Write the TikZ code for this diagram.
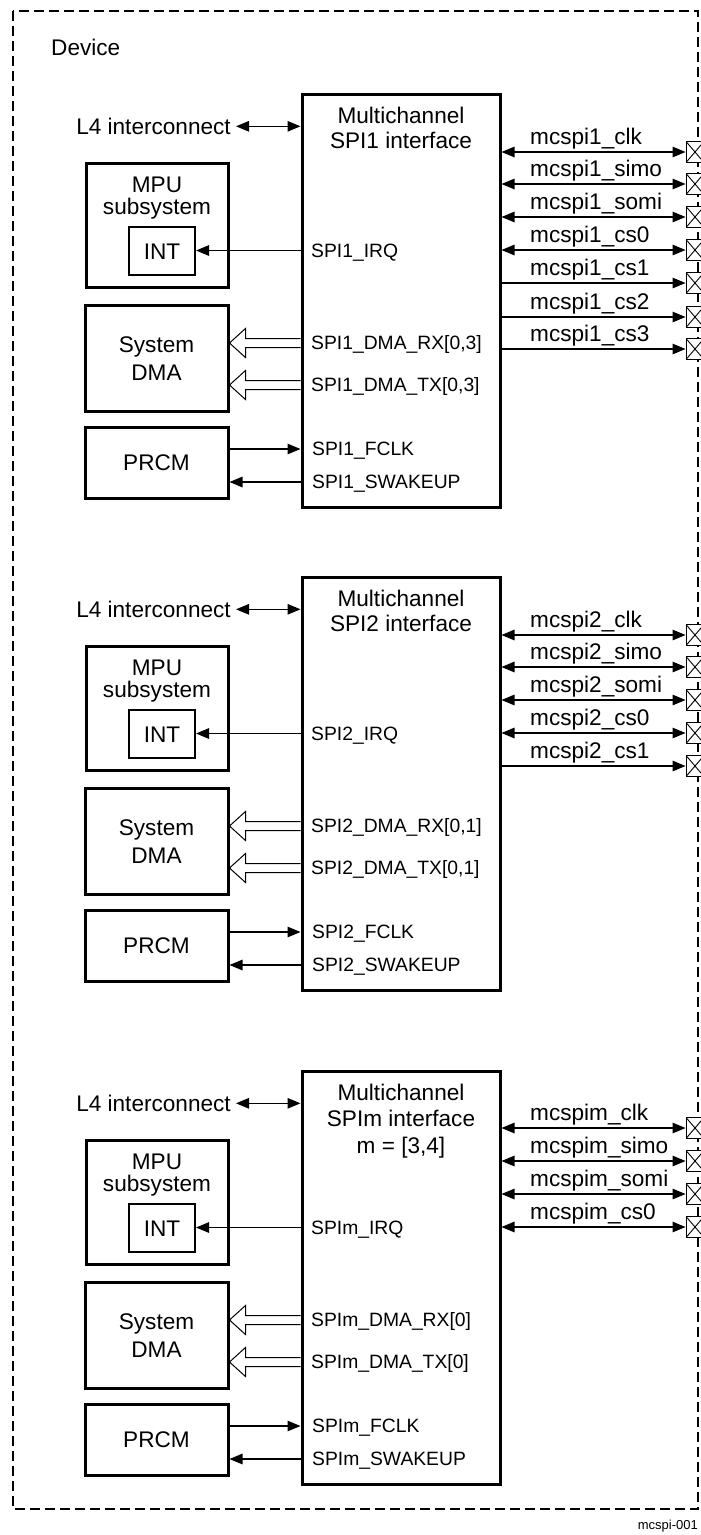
\documentclass[tikz,border=0pt]{standalone}
\usepackage{fontspec}
\setmainfont{Liberation Sans}
\usetikzlibrary{arrows.meta,calc}
\tikzset{
  bigtxt/.style={font=\fontsize{22.6}{26}\selectfont, inner sep=0pt, text height=16.2pt, text depth=0pt},
  sigtxt/.style={font=\fontsize{19.3}{22}\selectfont, inner sep=0pt, text height=13.8pt, text depth=0pt, anchor=west},
  blk/.style={draw, line width=3pt, inner sep=0pt},
  intbox/.style={draw, line width=2pt, inner sep=0pt},
  sigwire/.style={line width=1.2pt},
  onetip/.style={-{Triangle[length=13pt,width=10.5pt]}},
  twotip/.style={{Triangle[length=13pt,width=10.5pt]}-{Triangle[length=13pt,width=10.5pt]}},
  pinbox/.style={draw, fill=white, line width=0.9pt, inner sep=0pt, minimum width=18pt, minimum height=21pt,
    path picture={\draw[line width=0.9pt] (path picture bounding box.north west) -- (path picture bounding box.south east)
      (path picture bounding box.south west) -- (path picture bounding box.north east);}},
  devframe/.style={draw, line width=2pt, dash pattern=on 10pt off 5pt},
}
% hollow (double-line) arrow from the main block to the DMA block
\newcommand\hollowarrow[3]{%
  \coordinate (hat) at (#1.east |- #3.west);
  \coordinate (ham) at (#2.west |- #3.west);
  \draw[line width=1pt] ($(ham)+(0,-4.5)$) -- ($(hat)+(16,-4.5)$) -- ($(hat)+(16,-14.5)$) -- (hat)
    -- ($(hat)+(16,14.5)$) -- ($(hat)+(16,4.5)$) -- ($(ham)+(0,4.5)$);
}
% one SPI block: #1 id, #2 vertical offset, #3 prefix, #4 DMA range
\newcommand\spiblock[4]{%
  \node[blk, minimum width=198pt, minimum height=413pt] (main#1) at (401,300.5+#2) {};
  \node[bigtxt, anchor=east] (lfour#1) at (231,126.3+#2) {L4 interconnect};
  \draw[sigwire, twotip] ($(lfour#1.east)+(5,0)$) -- (lfour#1.east -| main#1.west);
  % MPU
  \node[blk, minimum width=142pt, minimum height=124pt] (mpu#1) at (157,225+#2) {};
  \node[bigtxt] (mpua#1) at (157,184.5+#2) {MPU};
  \node[bigtxt] (mpub#1) at (157,206+#2) {subsystem};
  \node[intbox, bigtxt, minimum width=66pt, minimum height=48pt] (int#1) at (162,251+#2) {INT};
  \node[sigtxt] (irq#1) at (311,250.5+#2) {#3\_IRQ};
  \draw[sigwire, onetip] (main#1.west |- irq#1.west) -- (int#1.east |- irq#1.west);
  % DMA
  \node[blk, minimum width=143pt, minimum height=106pt] (dma#1) at (156.5,358+#2) {};
  \node[bigtxt] (dmaa#1) at (156.5,344.5+#2) {System};
  \node[bigtxt] (dmab#1) at (156.5,372.5+#2) {DMA};
  \node[sigtxt] (rx#1) at (311,343+#2) {#3\_DMA\_RX#4};
  \node[sigtxt] (tx#1) at (311,385+#2) {#3\_DMA\_TX#4};
  \hollowarrow{dma#1}{main#1}{rx#1}
  \hollowarrow{dma#1}{main#1}{tx#1}
  % PRCM
  \node[blk, bigtxt, minimum width=143pt, minimum height=71pt] (prcm#1) at (156.5,462.5+#2) {PRCM};
  \node[sigtxt] (fclk#1) at (312,449+#2) {#3\_FCLK};
  \node[sigtxt] (swk#1) at (312,482+#2) {#3\_SWAKEUP};
  \draw[sigwire, onetip] (prcm#1.east |- fclk#1.west) -- (main#1.west |- fclk#1.west);
  \draw[sigwire, onetip] (main#1.west |- swk#1.west) -- (prcm#1.east |- swk#1.west);
}
% one external pin: #1 block id, #2 pin name, #3 y, #4 label, #5 arrow style
\newcommand\spipin[5]{%
  \node[pinbox] (#2) at (695,#3) {};
  \draw[sigwire, #5] (main#1.east |- #2.west) -- (#2.west);
  \node[bigtxt, anchor=west] (#2lab) at (530,#3-16) {#4};
}

\begin{document}
\begin{tikzpicture}[x=1pt,y=-1pt]
\useasboundingbox (0,0) rectangle (701,1535);
\draw[devframe] (13,11) rectangle (698,1509);
\node[bigtxt, anchor=west] (device) at (51,47.5) {Device};

% Block 1
\spiblock{a}{0}{SPI1}{[0,3]}
\node[bigtxt] (titaa) at (401,115) {Multichannel};
\node[bigtxt] (titab) at (401,140.5) {SPI1 interface};
\spipin{a}{pa1}{152}{mcspi1\_clk}{twotip}
\spipin{a}{pa2}{184}{mcspi1\_simo}{twotip}
\spipin{a}{pa3}{217}{mcspi1\_somi}{twotip}
\spipin{a}{pa4}{250}{mcspi1\_cs0}{twotip}
\spipin{a}{pa5}{283}{mcspi1\_cs1}{onetip}
\spipin{a}{pa6}{317}{mcspi1\_cs2}{onetip}
\spipin{a}{pa7}{349}{mcspi1\_cs3}{onetip}

% Block 2
\spiblock{b}{483}{SPI2}{[0,1]}
\node[bigtxt] (titba) at (401,115+483) {Multichannel};
\node[bigtxt] (titbb) at (401,140.5+483) {SPI2 interface};
\spipin{b}{pb1}{635}{mcspi2\_clk}{twotip}
\spipin{b}{pb2}{667}{mcspi2\_simo}{twotip}
\spipin{b}{pb3}{700}{mcspi2\_somi}{twotip}
\spipin{b}{pb4}{733}{mcspi2\_cs0}{twotip}
\spipin{b}{pb5}{766}{mcspi2\_cs1}{onetip}

% Block 3
\spiblock{c}{977}{SPIm}{[0]}
\node[bigtxt] (titca) at (401,115+977) {Multichannel};
\node[bigtxt] (titcb) at (401,141+977) {SPIm interface};
\node[bigtxt] (titcc) at (401,168+977) {m = [3,4]};
\spipin{c}{pc1}{1128}{mcspim\_clk}{twotip}
\spipin{c}{pc2}{1161}{mcspim\_simo}{twotip}
\spipin{c}{pc3}{1194}{mcspim\_somi}{twotip}
\spipin{c}{pc4}{1227}{mcspim\_cs0}{twotip}

\node[font=\fontsize{13}{15}\selectfont, inner sep=0pt, anchor=east] (figid) at (698,1526) {mcspi-001};
\end{tikzpicture}
\end{document}
